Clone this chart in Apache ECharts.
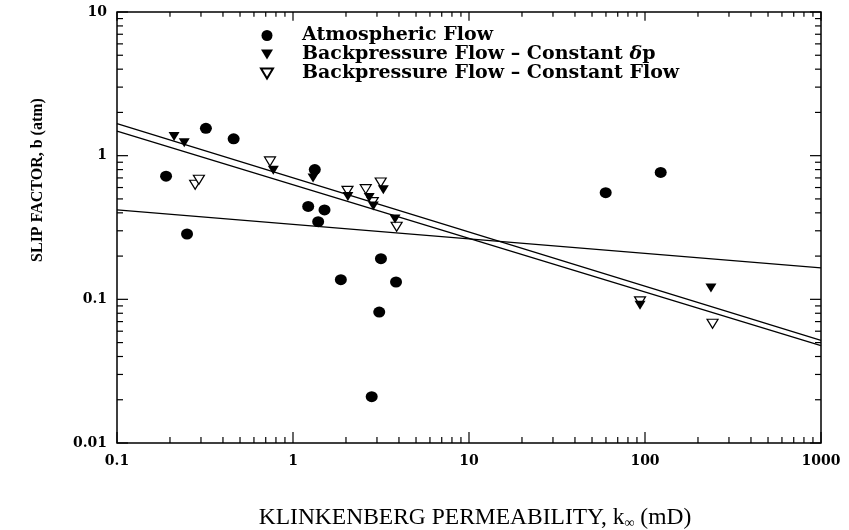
<!DOCTYPE html>
<html>
<head>
<meta charset="utf-8">
<script src="https://cdn.jsdelivr.net/npm/echarts@6/dist/echarts.min.js"></script>
<style>
  html, body { margin: 0; padding: 0; background: #fff; }
  #chart { width: 849px; height: 530px; }
</style>
</head>
<body>
<div id="chart"></div>
<script>
// Atmospheric flow (filled circles)
const atmX = [0.19, 0.25, 0.32, 0.46, 1.33, 1.22, 1.51, 1.39, 3.16, 1.87, 3.85, 3.09, 2.80, 59.8, 122.8];
const atmY = [0.72, 0.285, 1.55, 1.31, 0.80, 0.443, 0.419, 0.347, 0.192, 0.137, 0.132, 0.0815, 0.021, 0.553, 0.764];

// Backpressure flow, constant delta p (filled triangles)
const dpX = [0.211, 0.241, 0.773, 1.30, 2.05, 2.71, 2.86, 3.26, 3.80, 93.7, 237];
const dpY = [1.36, 1.23, 0.79, 0.70, 0.519, 0.511, 0.447, 0.578, 0.363, 0.0908, 0.12];

// Backpressure flow, constant flow (open triangles)
const cfX = [0.278, 0.292, 0.74, 2.04, 2.59, 2.84, 3.15, 3.88, 93.7, 242];
const cfY = [0.627, 0.68, 0.912, 0.569, 0.585, 0.475, 0.65, 0.32, 0.0968, 0.0676];

// fitted lines, value at k = 0.1 and k = 1000
const fitK = [0.1, 1000];
const fitUpper = [1.67, 0.0517];
const fitLower = [1.48, 0.0477];
const fitFlat = [0.419, 0.1656];

// axis ticks
const xMajorTicks = [0.1, 1, 10, 100, 1000];
const xMinorTicks = [0.2, 0.3, 0.4, 0.5, 0.6, 0.7, 0.8, 0.9,
  2, 3, 4, 5, 6, 7, 8, 9, 20, 30, 40, 50, 60, 70, 80, 90,
  200, 300, 400, 500, 600, 700, 800, 900];
const yMajorTicks = [0.01, 0.1, 1, 10];
const yMinorTicks = [0.02, 0.03, 0.04, 0.05, 0.06, 0.07, 0.08, 0.09,
  0.2, 0.3, 0.4, 0.5, 0.6, 0.7, 0.8, 0.9, 2, 3, 4, 5, 6, 7, 8, 9];

const legendNames = ['Atmospheric Flow', 'Backpressure Flow – Constant δp', 'Backpressure Flow – Constant Flow'];

const X_MIN = 0.1, X_MAX = 1000, Y_MIN = 0.01, Y_MAX = 10;
const MAJOR_LEN = 11, MINOR_LEN = 6;
const downTri = 'path://M0,0 L10,0 L5,8.5 Z';

const zip = (xs, ys) => xs.map((x, i) => [x, ys[i]]);

const xTickData = xMajorTicks.map(v => [v, Y_MIN, MAJOR_LEN])
  .concat(xMinorTicks.map(v => [v, Y_MIN, MINOR_LEN]));
const yTickData = yMajorTicks.map(v => [X_MIN, v, MAJOR_LEN])
  .concat(yMinorTicks.map(v => [X_MIN, v, MINOR_LEN]));

const tickStyle = { stroke: '#000', lineWidth: 1.2 };

function renderXTick(params, api) {
  const p = api.coord([api.value(0), api.value(1)]);
  const cs = params.coordSys;
  const len = api.value(2);
  return {
    type: 'group',
    children: [
      { type: 'line', shape: { x1: p[0], y1: cs.y + cs.height, x2: p[0], y2: cs.y + cs.height - len }, style: tickStyle },
      { type: 'line', shape: { x1: p[0], y1: cs.y, x2: p[0], y2: cs.y + len * 0.8 }, style: tickStyle }
    ]
  };
}

function renderYTick(params, api) {
  const p = api.coord([api.value(0), api.value(1)]);
  const cs = params.coordSys;
  const len = api.value(2);
  return {
    type: 'group',
    children: [
      { type: 'line', shape: { x1: cs.x, y1: p[1], x2: cs.x + len, y2: p[1] }, style: tickStyle },
      { type: 'line', shape: { x1: cs.x + cs.width, y1: p[1], x2: cs.x + cs.width - len, y2: p[1] }, style: tickStyle }
    ]
  };
}

const numLabel = v => String(+(+v).toPrecision(3));

const chart = echarts.init(document.getElementById('chart'));

const fitLine = (name, ys) => ({
  name: name,
  type: 'line',
  data: zip(fitK, ys),
  symbol: 'none',
  silent: true,
  lineStyle: { color: '#000', width: 1.3 },
  z: 2
});

chart.setOption({
  animation: false,
  backgroundColor: '#fff',
  grid: {
    left: 117, right: 28, top: 12, bottom: 87,
    outerBoundsMode: 'none',
    containLabel: false,
    show: true, borderColor: '#000', borderWidth: 1.5, backgroundColor: 'transparent'
  },
  legend: {
    orient: 'vertical',
    left: 255,
    top: 21,
    itemWidth: 12,
    itemHeight: 11,
    itemGap: 0,
    data: legendNames,
    selectedMode: false,
    formatter: name => name.replace('δ', '{i|δ}'),
    textStyle: {
      fontFamily: 'DejaVu Serif', fontWeight: 'bold', fontSize: 19, color: '#000',
      lineHeight: 16, padding: [0, 0, 0, 24],
      rich: {
        i: { fontFamily: 'DejaVu Serif', fontWeight: 'bold', fontStyle: 'italic', fontSize: 19, color: '#000', lineHeight: 16 }
      }
    }
  },
  xAxis: {
    type: 'log', logBase: 10, min: X_MIN, max: X_MAX,
    axisLine: { show: false },
    axisTick: { show: false },
    splitLine: { show: false },
    axisLabel: {
      formatter: numLabel, margin: 11, color: '#000',
      fontFamily: 'DejaVu Serif', fontWeight: 'bold', fontSize: 14
    },
    name: 'KLINKENBERG PERMEABILITY, k{sub|∞} (mD)',
    nameLocation: 'middle',
    nameGap: 62,
    nameTextStyle: {
      fontFamily: 'Liberation Serif', fontSize: 23.5, color: '#000', lineHeight: 25,
      padding: [0, 0, 0, 12],
      rich: {
        sub: { fontFamily: 'Liberation Serif', fontSize: 14, color: '#000', verticalAlign: 'bottom', lineHeight: 12 }
      }
    }
  },
  yAxis: {
    type: 'log', logBase: 10, min: Y_MIN, max: Y_MAX,
    axisLine: { show: false },
    axisTick: { show: false },
    splitLine: { show: false },
    axisLabel: {
      formatter: numLabel, margin: 10, color: '#000',
      fontFamily: 'DejaVu Serif', fontWeight: 'bold', fontSize: 14
    }
  },
  graphic: [{
    type: 'text',
    x: 38, y: 180,
    rotation: Math.PI / 2,
    style: {
      text: 'SLIP FACTOR, b (atm)',
      font: 'bold 16px "Liberation Serif"',
      fill: '#000',
      textAlign: 'center',
      textVerticalAlign: 'middle'
    }
  }],
  series: [
    fitLine('fit upper', fitUpper),
    fitLine('fit lower', fitLower),
    fitLine('fit flat', fitFlat),
    {
      name: legendNames[2],
      type: 'scatter',
      data: zip(cfX, cfY),
      symbol: downTri,
      symbolSize: [11, 9],
      itemStyle: { color: '#fff', borderColor: '#000', borderWidth: 1.2, opacity: 1 },
      z: 3
    },
    {
      name: legendNames[1],
      type: 'scatter',
      data: zip(dpX, dpY),
      symbol: downTri,
      symbolSize: [11, 9],
      itemStyle: { color: '#000', opacity: 1 },
      z: 4
    },
    {
      name: legendNames[0],
      type: 'scatter',
      data: zip(atmX, atmY),
      symbol: 'circle',
      symbolSize: [12, 11],
      itemStyle: { color: '#000', opacity: 1 },
      z: 5
    },
    {
      name: 'x ticks',
      type: 'custom',
      silent: true,
      renderItem: renderXTick,
      data: xTickData,
      encode: { x: 0, y: 1 },
      z: 6
    },
    {
      name: 'y ticks',
      type: 'custom',
      silent: true,
      renderItem: renderYTick,
      data: yTickData,
      encode: { x: 0, y: 1 },
      z: 6
    }
  ]
});
</script>
</body>
</html>
